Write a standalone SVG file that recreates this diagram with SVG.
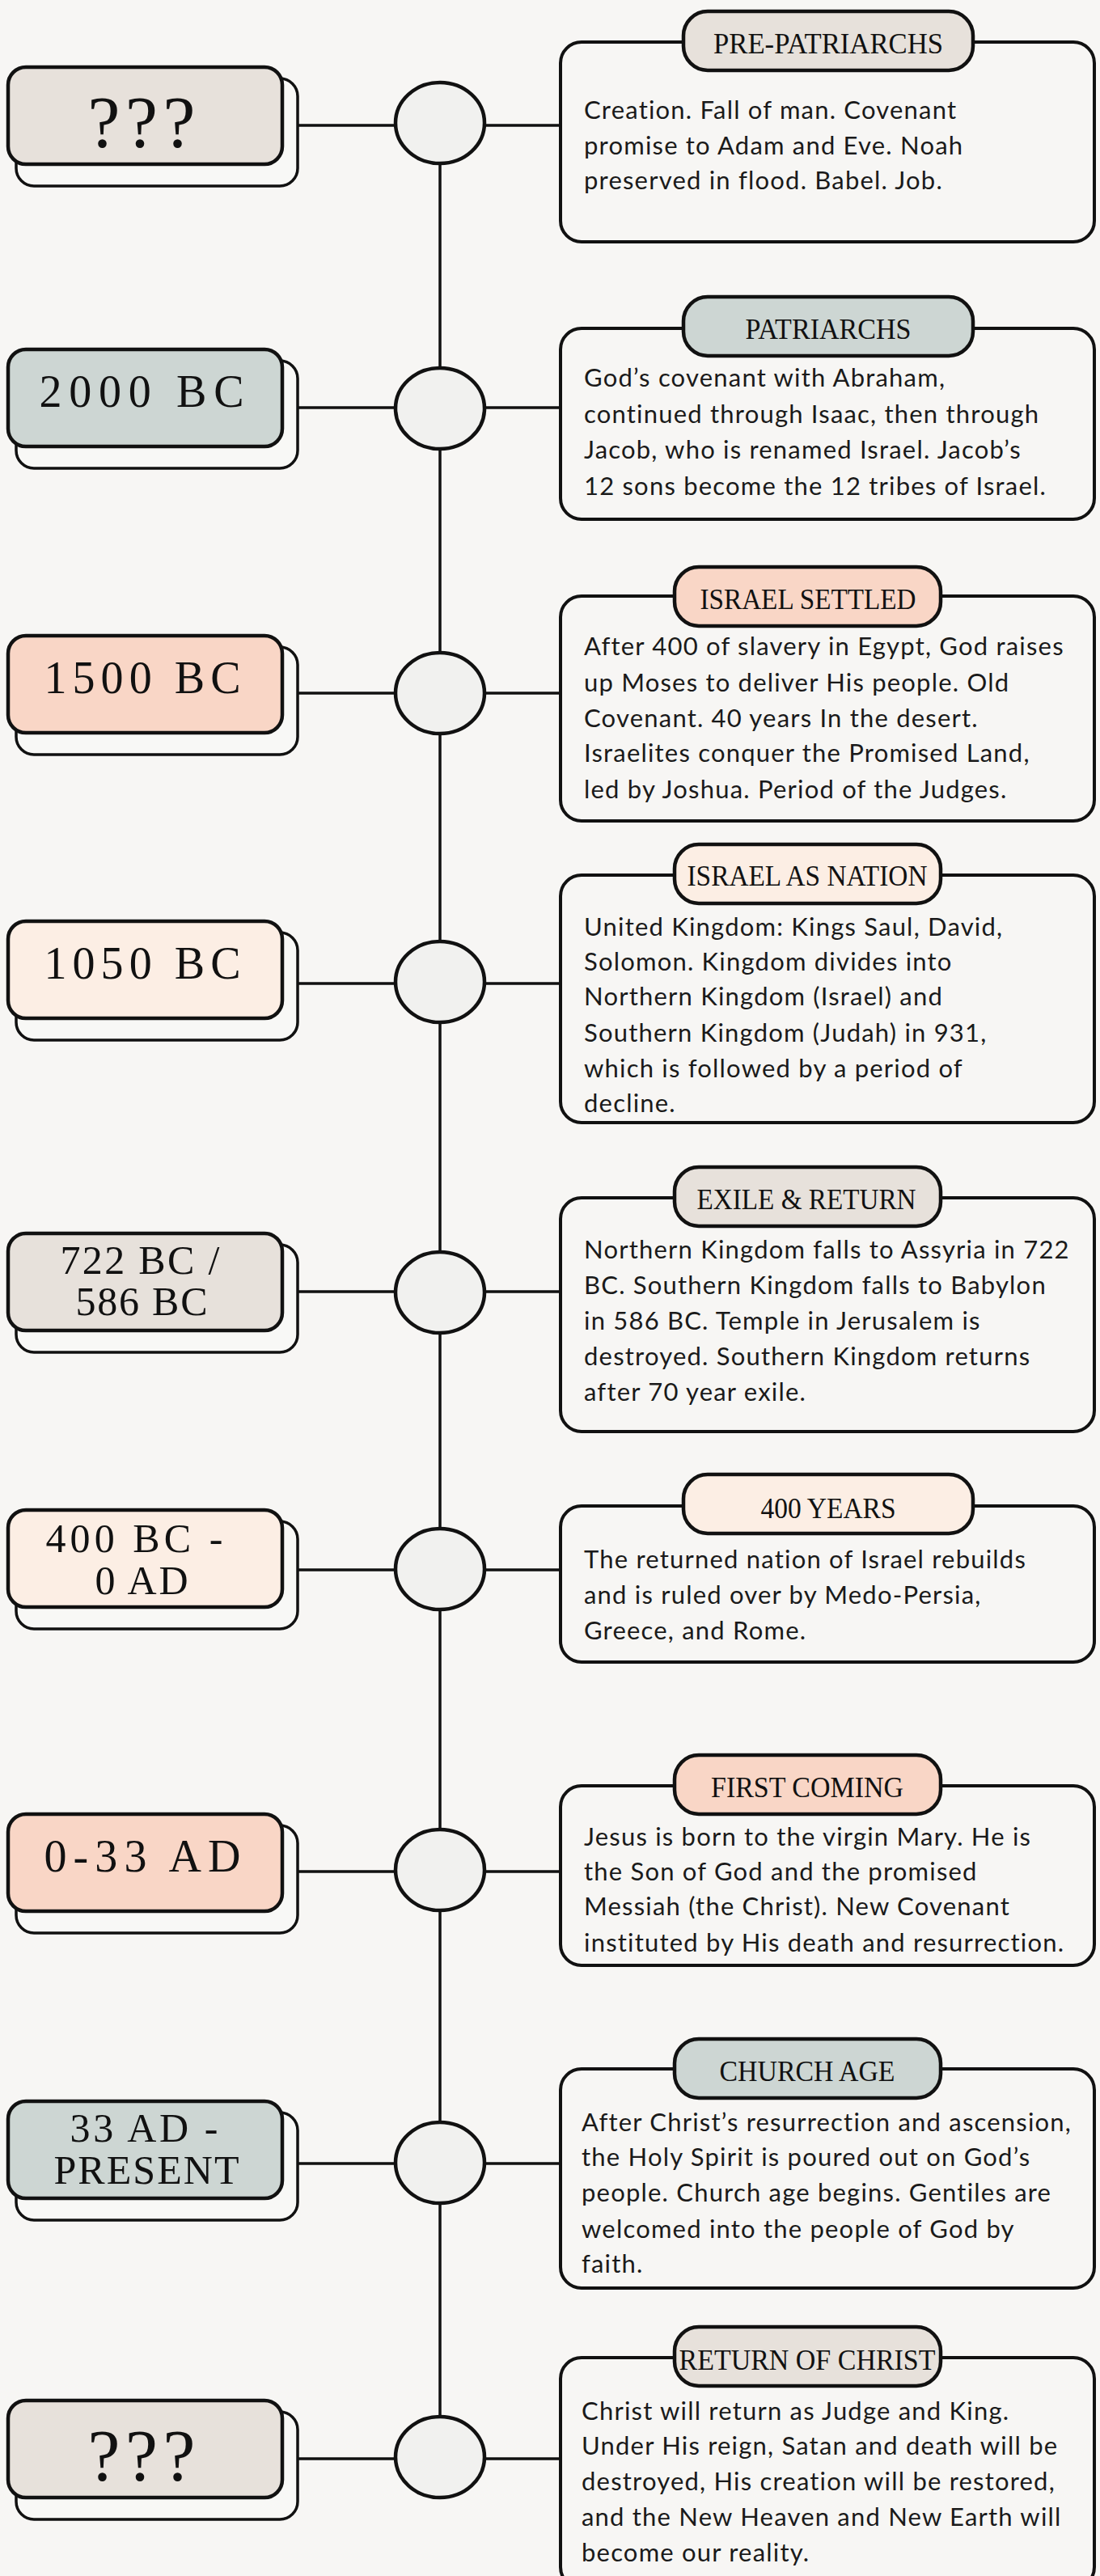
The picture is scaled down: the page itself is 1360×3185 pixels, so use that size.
<svg xmlns="http://www.w3.org/2000/svg" width="1360" height="3185" viewBox="0 0 1360 3185">
<style>
.bg{fill:#F7F6F4}
.back{fill:#F8F8F6;stroke:#111;stroke-width:3.5}
.front{stroke:#111;stroke-width:4.5}
.dot{fill:#F1F1EF;stroke:#111;stroke-width:4.5}
.desc{fill:#F7F6F4;stroke:#111;stroke-width:4}
.pill{stroke:#111;stroke-width:4.5}
.beige{fill:#E7E1DB}
.sage{fill:#CDD6D3}
.peach{fill:#F9D6C6}
.light{fill:#FCEEE4}
.line{stroke:#111;stroke-width:3.5;fill:none}
.date{font-family:"Liberation Serif","DejaVu Serif",serif;fill:#111;text-anchor:middle}
.d1{font-size:56px}
.d2{font-size:50px}
.q{font-size:90px}
.title{font-family:"Liberation Serif","DejaVu Serif",serif;font-size:35px;fill:#111;text-anchor:middle}
.body{font-family:Lato,"Liberation Sans",sans-serif;font-size:31px;letter-spacing:1.2px;fill:#1a1a1a}
</style>
<rect class="bg" x="0" y="0" width="1360" height="3185"/>

<g id="connectors">
<line class="line" x1="544" y1="152" x2="544" y2="3037"/>
<line class="line" x1="368" y1="155" x2="693" y2="155"/>
<line class="line" x1="368" y1="504" x2="693" y2="504"/>
<line class="line" x1="368" y1="857" x2="693" y2="857"/>
<line class="line" x1="368" y1="1216" x2="693" y2="1216"/>
<line class="line" x1="368" y1="1597" x2="693" y2="1597"/>
<line class="line" x1="368" y1="1941" x2="693" y2="1941"/>
<line class="line" x1="368" y1="2314" x2="693" y2="2314"/>
<line class="line" x1="368" y1="2675" x2="693" y2="2675"/>
<line class="line" x1="368" y1="3040" x2="693" y2="3040"/>
</g>

<!-- 1 -->
<g id="date-1">
<rect class="back" x="20" y="97" width="348" height="133" rx="22"/>
<rect class="front beige" x="10" y="83" width="339" height="120" rx="22"/>
<text class="date q" x="175" y="182" textLength="133" lengthAdjust="spacing">???</text>
</g>
<g id="dot-1"><ellipse class="dot" cx="544" cy="152" rx="55" ry="50"/></g>
<g id="event-1">
<rect class="desc" x="693" y="52" width="660" height="247" rx="26"/>
<rect class="pill beige" x="845" y="14" width="358" height="73" rx="30"/>
<text class="title" x="1024" y="66" textLength="284" lengthAdjust="spacingAndGlyphs">PRE-PATRIARCHS</text>
<text class="body" x="722" y="147">Creation. Fall of man. Covenant</text>
<text class="body" x="722" y="191">promise to Adam and Eve. Noah</text>
<text class="body" x="722" y="234">preserved in flood. Babel. Job.</text>
</g>

<!-- 2 -->
<g id="date-2">
<rect class="back" x="20" y="446" width="348" height="133" rx="22"/>
<rect class="front sage" x="10" y="432" width="339" height="120" rx="22"/>
<text class="date d1" x="175" y="503" textLength="253" lengthAdjust="spacing">2000 BC</text>
</g>
<g id="dot-2"><ellipse class="dot" cx="544" cy="505" rx="55" ry="50"/></g>
<g id="event-2">
<rect class="desc" x="693" y="406" width="660" height="236" rx="26"/>
<rect class="pill sage" x="845" y="367" width="358" height="73" rx="30"/>
<text class="title" x="1024" y="419" textLength="205" lengthAdjust="spacingAndGlyphs">PATRIARCHS</text>
<text class="body" x="722" y="478">God’s covenant with Abraham,</text>
<text class="body" x="722" y="523">continued through Isaac, then through</text>
<text class="body" x="722" y="567">Jacob, who is renamed Israel. Jacob’s</text>
<text class="body" x="722" y="612">12 sons become the 12 tribes of Israel.</text>
</g>

<!-- 3 -->
<g id="date-3">
<rect class="back" x="20" y="800" width="348" height="133" rx="22"/>
<rect class="front peach" x="10" y="786" width="339" height="120" rx="22"/>
<text class="date d1" x="176" y="857" textLength="243" lengthAdjust="spacing">1500 BC</text>
</g>
<g id="dot-3"><ellipse class="dot" cx="544" cy="857" rx="55" ry="50"/></g>
<g id="event-3">
<rect class="desc" x="693" y="737" width="660" height="278" rx="26"/>
<rect class="pill peach" x="834" y="701" width="329" height="73" rx="30"/>
<text class="title" x="999" y="753" textLength="267" lengthAdjust="spacingAndGlyphs">ISRAEL SETTLED</text>
<text class="body" x="722" y="810">After 400 of slavery in Egypt, God raises</text>
<text class="body" x="722" y="855">up Moses to deliver His people. Old</text>
<text class="body" x="722" y="899">Covenant. 40 years In the desert.</text>
<text class="body" x="722" y="942">Israelites conquer the Promised Land,</text>
<text class="body" x="722" y="987">led by Joshua. Period of the Judges.</text>
</g>

<!-- 4 -->
<g id="date-4">
<rect class="back" x="20" y="1153" width="348" height="133" rx="22"/>
<rect class="front light" x="10" y="1139" width="339" height="120" rx="22"/>
<text class="date d1" x="176" y="1210" textLength="243" lengthAdjust="spacing">1050 BC</text>
</g>
<g id="dot-4"><ellipse class="dot" cx="544" cy="1214" rx="55" ry="50"/></g>
<g id="event-4">
<rect class="desc" x="693" y="1082" width="660" height="306" rx="26"/>
<rect class="pill light" x="834" y="1044" width="329" height="73" rx="30"/>
<text class="title" x="998" y="1095" textLength="297" lengthAdjust="spacingAndGlyphs">ISRAEL AS NATION</text>
<text class="body" x="722" y="1157">United Kingdom: Kings Saul, David,</text>
<text class="body" x="722" y="1200">Solomon. Kingdom divides into</text>
<text class="body" x="722" y="1243">Northern Kingdom (Israel) and</text>
<text class="body" x="722" y="1288">Southern Kingdom (Judah) in 931,</text>
<text class="body" x="722" y="1332">which is followed by a period of</text>
<text class="body" x="722" y="1375">decline.</text>
</g>

<!-- 5 -->
<g id="date-5">
<rect class="back" x="20" y="1539" width="348" height="133" rx="22"/>
<rect class="front beige" x="10" y="1525" width="339" height="120" rx="22"/>
<text class="date d2" x="173" y="1575" textLength="197" lengthAdjust="spacing">722 BC /</text>
<text class="date d2" x="175" y="1626" textLength="163" lengthAdjust="spacing">586 BC</text>
</g>
<g id="dot-5"><ellipse class="dot" cx="544" cy="1598" rx="55" ry="50"/></g>
<g id="event-5">
<rect class="desc" x="693" y="1481" width="660" height="289" rx="26"/>
<rect class="pill beige" x="834" y="1443" width="329" height="73" rx="30"/>
<text class="title" x="997" y="1495" textLength="271" lengthAdjust="spacingAndGlyphs">EXILE &amp; RETURN</text>
<text class="body" x="722" y="1556">Northern Kingdom falls to Assyria in 722</text>
<text class="body" x="722" y="1600">BC. Southern Kingdom falls to Babylon</text>
<text class="body" x="722" y="1644">in 586 BC. Temple in Jerusalem is</text>
<text class="body" x="722" y="1688">destroyed. Southern Kingdom returns</text>
<text class="body" x="722" y="1732">after 70 year exile.</text>
</g>

<!-- 6 -->
<g id="date-6">
<rect class="back" x="20" y="1881" width="348" height="133" rx="22"/>
<rect class="front light" x="10" y="1867" width="339" height="120" rx="22"/>
<text class="date d2" x="166" y="1919" textLength="219" lengthAdjust="spacing">400 BC -</text>
<text class="date d2" x="175" y="1971" textLength="115" lengthAdjust="spacing">0 AD</text>
</g>
<g id="dot-6"><ellipse class="dot" cx="544" cy="1940" rx="55" ry="50"/></g>
<g id="event-6">
<rect class="desc" x="693" y="1862" width="660" height="193" rx="26"/>
<rect class="pill light" x="845" y="1823" width="358" height="73" rx="30"/>
<text class="title" x="1024" y="1877" textLength="167" lengthAdjust="spacingAndGlyphs">400 YEARS</text>
<text class="body" x="722" y="1939">The returned nation of Israel rebuilds</text>
<text class="body" x="722" y="1983">and is ruled over by Medo-Persia,</text>
<text class="body" x="722" y="2027">Greece, and Rome.</text>
</g>

<!-- 7 -->
<g id="date-7">
<rect class="back" x="20" y="2257" width="348" height="133" rx="22"/>
<rect class="front peach" x="10" y="2243" width="339" height="120" rx="22"/>
<text class="date d1" x="176" y="2314" textLength="243" lengthAdjust="spacing">0-33 AD</text>
</g>
<g id="dot-7"><ellipse class="dot" cx="544" cy="2312" rx="55" ry="50"/></g>
<g id="event-7">
<rect class="desc" x="693" y="2208" width="660" height="222" rx="26"/>
<rect class="pill peach" x="834" y="2170" width="329" height="73" rx="30"/>
<text class="title" x="998" y="2222" textLength="238" lengthAdjust="spacingAndGlyphs">FIRST COMING</text>
<text class="body" x="722" y="2282">Jesus is born to the virgin Mary. He is</text>
<text class="body" x="722" y="2325">the Son of God and the promised</text>
<text class="body" x="722" y="2368">Messiah (the Christ). New Covenant</text>
<text class="body" x="722" y="2413">instituted by His death and resurrection.</text>
</g>

<!-- 8 -->
<g id="date-8">
<rect class="back" x="20" y="2612" width="348" height="133" rx="22"/>
<rect class="front sage" x="10" y="2598" width="339" height="120" rx="22"/>
<text class="date d2" x="178" y="2648" textLength="183" lengthAdjust="spacing">33 AD -</text>
<text class="date d2" x="181" y="2700" textLength="229" lengthAdjust="spacing">PRESENT</text>
</g>
<g id="dot-8"><ellipse class="dot" cx="544" cy="2674" rx="55" ry="50"/></g>
<g id="event-8">
<rect class="desc" x="693" y="2558" width="660" height="271" rx="26"/>
<rect class="pill sage" x="834" y="2521" width="329" height="73" rx="30"/>
<text class="title" x="998" y="2573" textLength="217" lengthAdjust="spacingAndGlyphs">CHURCH AGE</text>
<text class="body" x="719" y="2635">After Christ’s resurrection and ascension,</text>
<text class="body" x="719" y="2678">the Holy Spirit is poured out on God’s</text>
<text class="body" x="719" y="2722">people. Church age begins. Gentiles are</text>
<text class="body" x="719" y="2767">welcomed into the people of God by</text>
<text class="body" x="719" y="2810">faith.</text>
</g>

<!-- 9 -->
<g id="date-9">
<rect class="back" x="20" y="2982" width="348" height="133" rx="22"/>
<rect class="front beige" x="10" y="2968" width="339" height="120" rx="22"/>
<text class="date q" x="175" y="3067" textLength="133" lengthAdjust="spacing">???</text>
</g>
<g id="dot-9"><ellipse class="dot" cx="544" cy="3038" rx="55" ry="50"/></g>
<g id="event-9">
<rect class="desc" x="693" y="2915" width="660" height="285" rx="26"/>
<rect class="pill beige" x="834" y="2877" width="329" height="73" rx="30"/>
<text class="title" x="998" y="2930" textLength="317" lengthAdjust="spacingAndGlyphs">RETURN OF CHRIST</text>
<text class="body" x="719" y="2992">Christ will return as Judge and King.</text>
<text class="body" x="719" y="3035">Under His reign, Satan  and death will be</text>
<text class="body" x="719" y="3079">destroyed, His creation will be restored,</text>
<text class="body" x="719" y="3123">and the New Heaven and New Earth will</text>
<text class="body" x="719" y="3167">become our reality.</text>
</g>
</svg>
